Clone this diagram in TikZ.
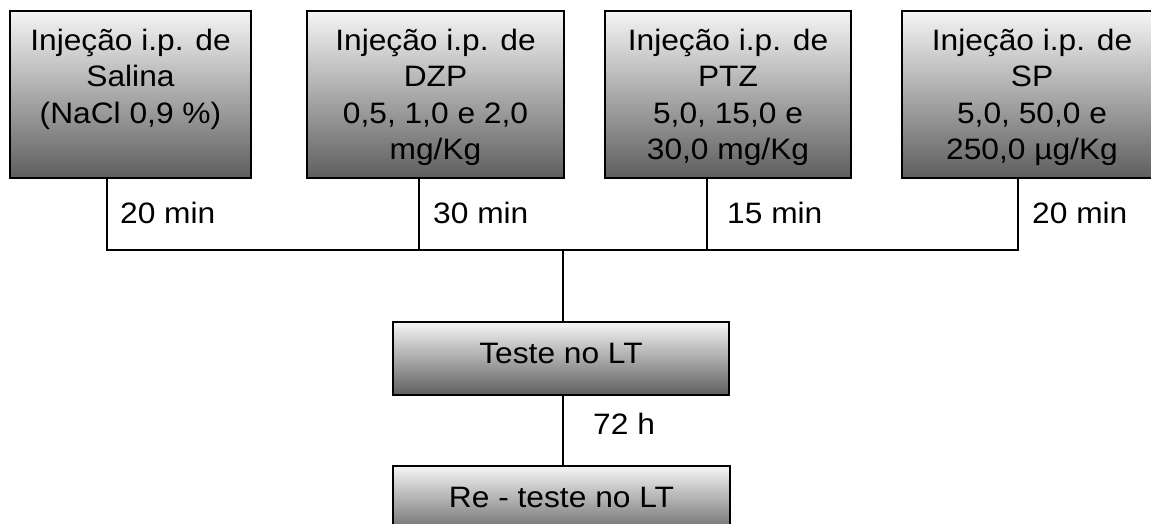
\documentclass[tikz,border=0pt]{standalone}
\usepackage{fontspec}
\setmainfont{Liberation Sans}[FakeStretch=1.075]
\usetikzlibrary{shadows}
\tikzset{
  box/.style={draw=black, line width=1.2pt, rectangle, top color=white!96!black, bottom color=black!63,
    inner sep=0pt, drop shadow={shadow xshift=1.3pt, shadow yshift=-1.3pt, fill=black!55, opacity=1}},
  txt/.style={inner sep=0pt, align=center, font=\fontsize{29.5}{36.5}\selectfont},
  lbl/.style={inner sep=0pt, anchor=base west, font=\fontsize{29.5}{36}\selectfont},
  conn/.style={line width=1.2pt, draw=black}
}
\begin{document}
\begin{tikzpicture}[x=1pt,y=-1pt]
\useasboundingbox (0,0) rectangle (1151,524);
\clip (0,0) rectangle (1151,524);
\fill[white] (0,0) rectangle (1151,524);
% top boxes
\node[box, minimum width=241pt, minimum height=167pt] (s1) at (130.5,94.5) {};
\node[box, minimum width=257pt, minimum height=167pt] (s2) at (435.5,94.5) {};
\node[box, minimum width=246pt, minimum height=167pt] (s3) at (728,94.5) {};
\node[box, minimum width=260pt, minimum height=167pt] (s4) at (1032,94.5) {};
\node[txt, anchor=north] (t1) at (130.5,28.5) {Injeção i.p. de\\Salina\\(NaCl 0,9 \%)};
\node[txt, anchor=north] (t2) at (435.5,28.5) {Injeção i.p. de\\DZP\\0,5, 1,0 e 2,0\\mg/Kg};
\node[txt, anchor=north] (t3) at (728,28.5) {Injeção i.p. de\\PTZ\\5,0, 15,0 e\\30,0 mg/Kg};
\node[txt, anchor=north] (t4) at (1032,28.5) {Injeção i.p. de\\SP\\5,0, 50,0 e\\250,0 µg/Kg};
% bottom boxes
\node[box, minimum width=336pt, minimum height=73pt] (teste) at (561,358.5) {};
\node[txt] (tteste) at (561,353) {Teste no LT};
\node[box, minimum width=337pt, minimum height=73pt] (reteste) at (561.5,502.5) {};
\node[txt] (treteste) at (561.5,497) {Re - teste no LT};
% connectors
\coordinate (c1) at (107,250);
\coordinate (c4) at (1018,250);
\coordinate (hub) at (563,250);
\draw[conn] (s1.south -| c1) -- (c1) -- (c4) -- (s4.south -| c4);
\draw[conn] (s2.south -| 419,0) -- (419,250);
\draw[conn] (s3.south -| 707,0) -- (707,250);
\draw[conn] (hub) -- (teste.north -| hub);
\draw[conn] (teste.south -| hub) -- (reteste.north -| hub);
% labels
\node[lbl] (l1) at (120,223) {20 min};
\node[lbl] (l2) at (433,223) {30 min};
\node[lbl] (l3) at (727,223) {15 min};
\node[lbl] (l4) at (1032,223) {20 min};
\node[lbl] (l5) at (593,434) {72 h};
\end{tikzpicture}
\end{document}
